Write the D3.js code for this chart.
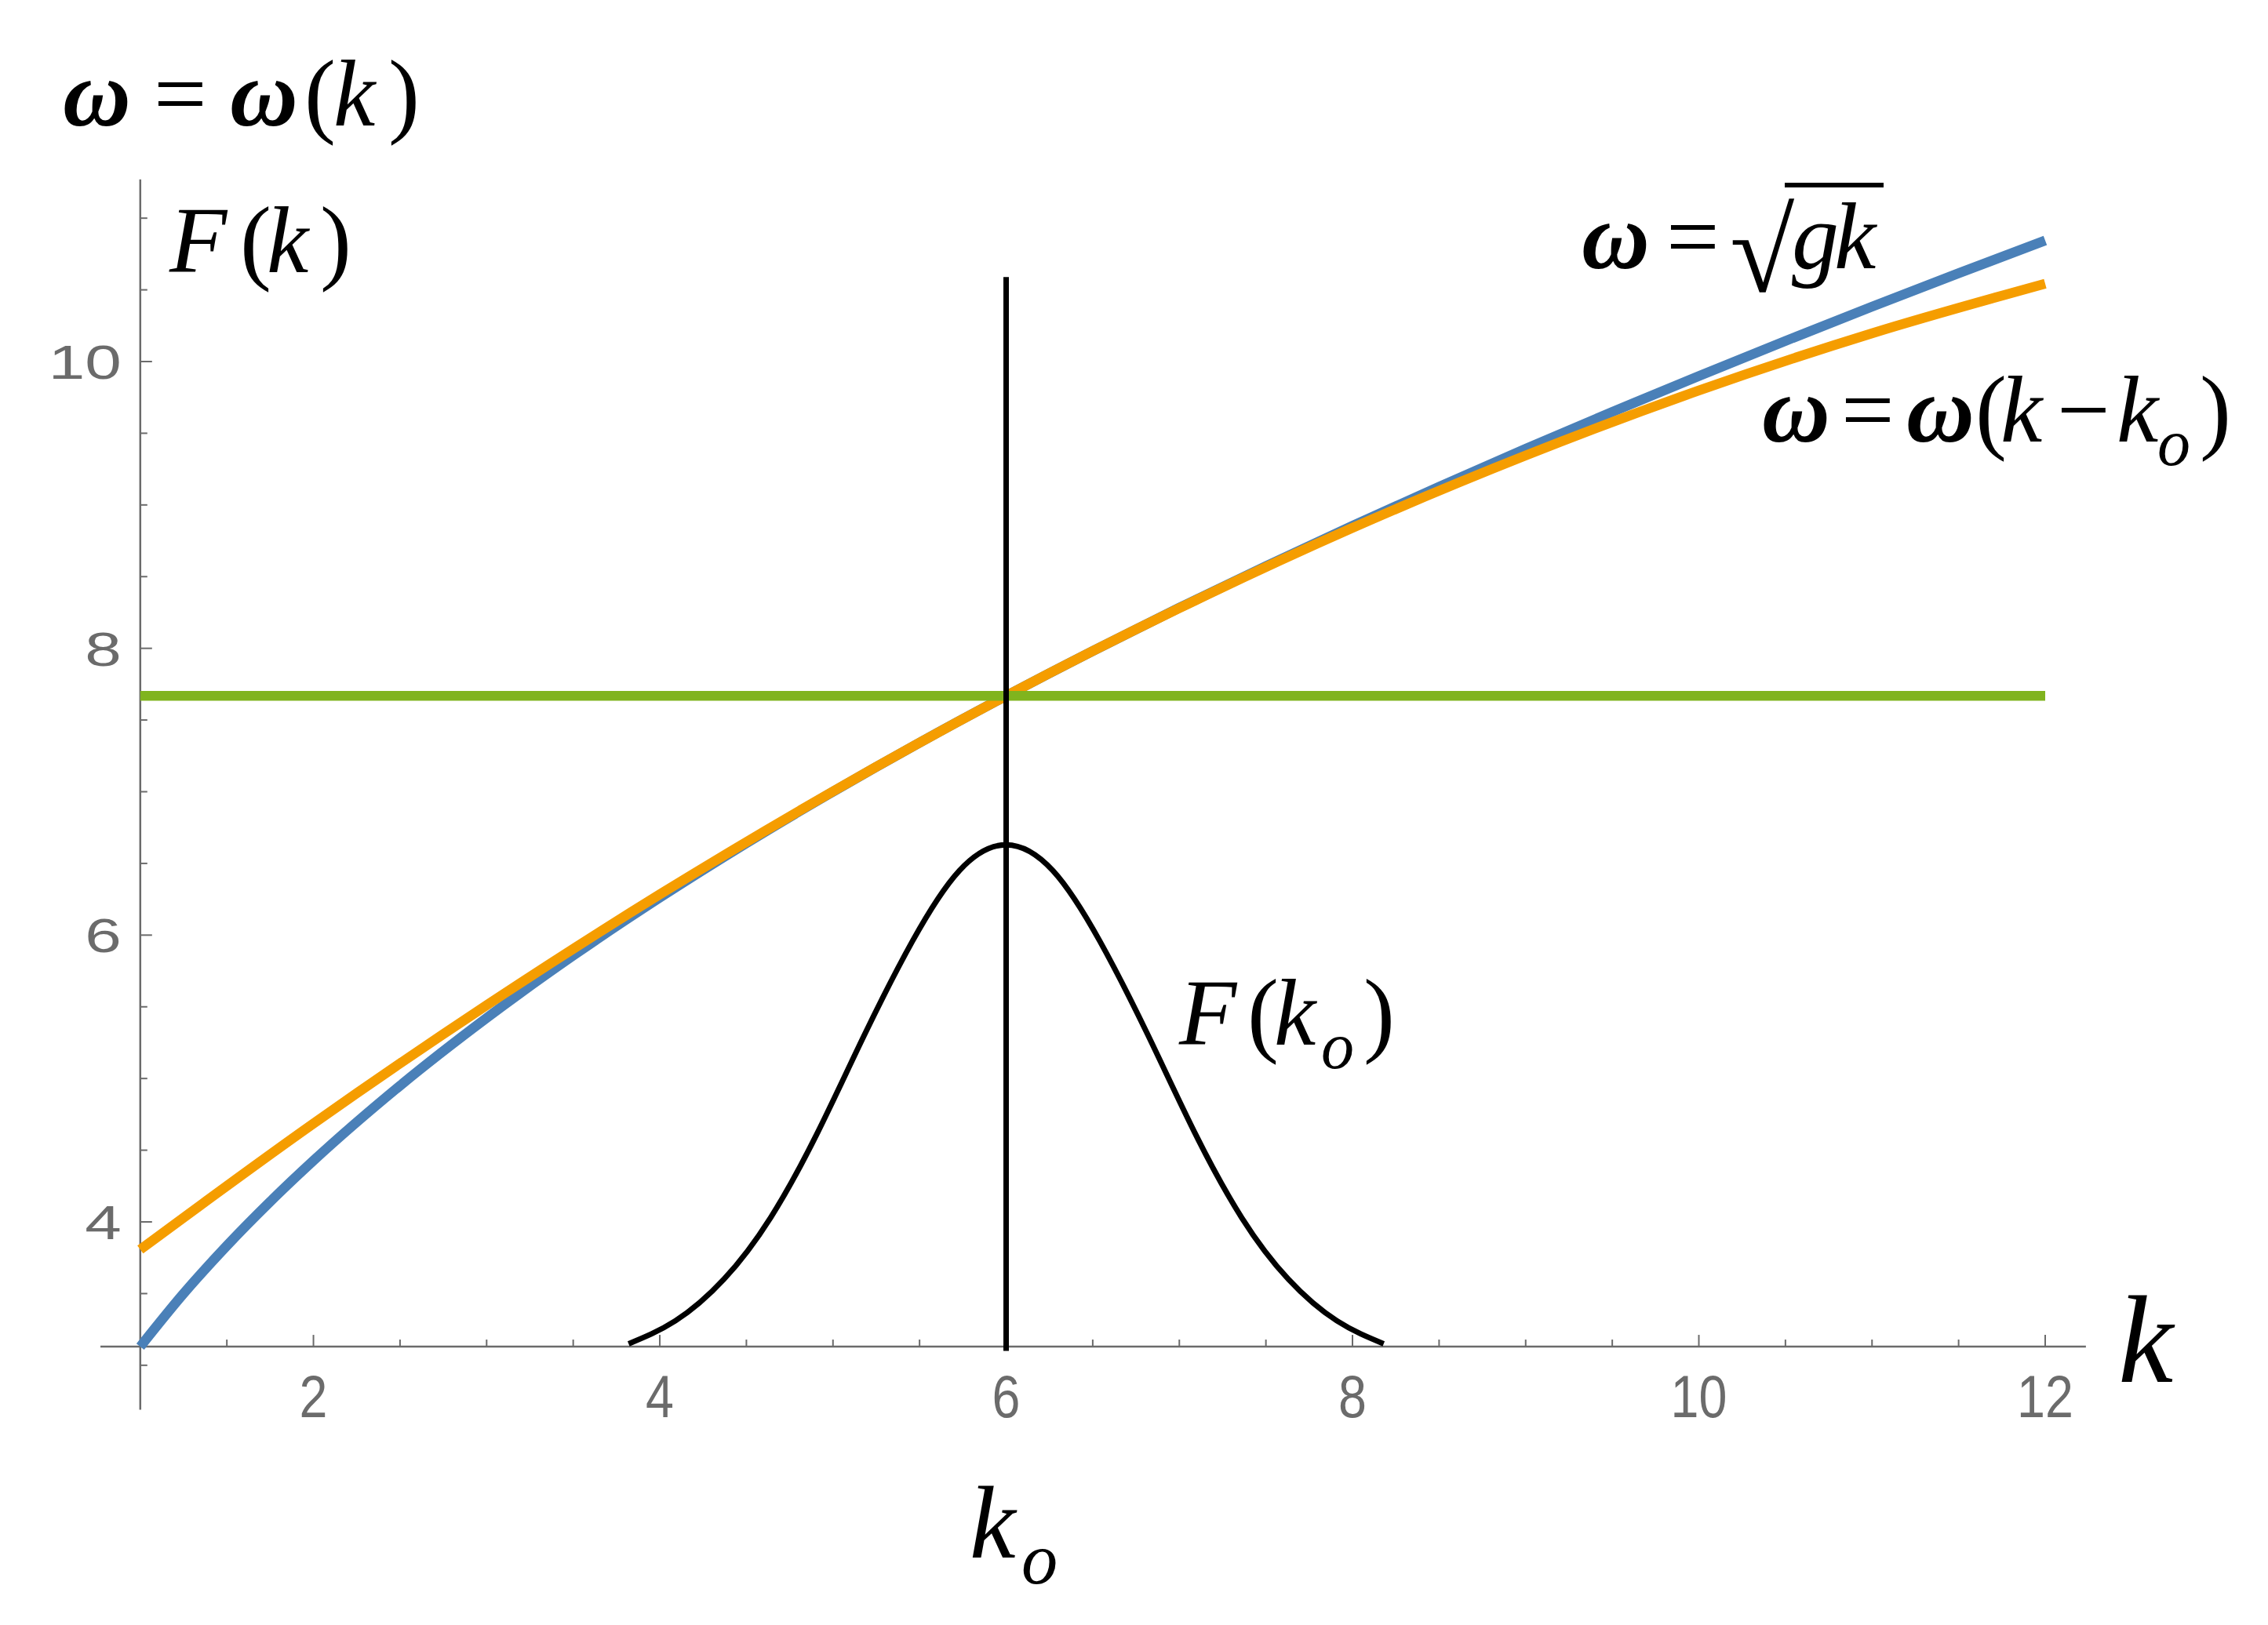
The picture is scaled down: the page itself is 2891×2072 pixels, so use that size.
<!DOCTYPE html>
<html>
<head>
<meta charset="utf-8">
<script src="https://cdn.jsdelivr.net/npm/d3@7"></script>
<style>
  html, body { margin: 0; padding: 0; background: #fff; }
  svg { display: block; }
</style>
</head>
<body>
<svg id="chart" width="2891" height="2072"></svg>
<script>
// ---- data ----
const kBlue = [1, 1.25, 1.5, 1.75, 2, 2.5, 3, 3.5, 4, 4.5, 5, 5.5, 6, 6.5, 7, 7.5, 8, 8.5, 9, 9.5, 10, 10.5, 11, 11.5, 12];
const omegaBlue = [3.130, 3.500, 3.834, 4.141, 4.427, 4.950, 5.422, 5.857, 6.261, 6.641, 7.000, 7.342, 7.668, 7.981, 8.283, 8.573, 8.854, 9.127, 9.391, 9.649, 9.899, 10.144, 10.383, 10.616, 10.844];

const kOrange = [1, 2, 3, 4, 5, 6, 7, 8, 9, 10, 11, 12];
const omegaOrange = [3.807, 4.686, 5.511, 6.284, 7.002, 7.668, 8.280, 8.840, 9.345, 9.798, 10.197, 10.543];

const kGauss = [3.82, 4.09, 4.37, 4.64, 4.91, 5.18, 5.46, 5.73, 6.0, 6.27, 6.54, 6.82, 7.09, 7.36, 7.63, 7.91, 8.18];
const FGauss = [3.15, 3.31, 3.60, 4.03, 4.62, 5.30, 5.96, 6.45, 6.63, 6.45, 5.96, 5.30, 4.62, 4.03, 3.60, 3.31, 3.15];

const omegaLevel = 7.668;          // green horizontal line
const kLevelRange = [1, 12];
const k0 = 6;                      // vertical line
const k0LineRange = [3.10, 10.59];

const xTickLabels = [2, 4, 6, 8, 10, 12];
const yTickLabels = [4, 6, 8, 10];
const xMinorTicks = [1.5, 2.5, 3, 3.5, 4.5, 5, 5.5, 6.5, 7, 7.5, 8.5, 9, 9.5, 10.5, 11, 11.5];
const yMinorTicks = [3, 3.5, 4.5, 5, 5.5, 6.5, 7, 7.5, 8.5, 9, 9.5, 10.5, 11];
const axisCrossY = 3.13;
const axisCrossX = 1;
const xAxisExtent = [0.77, 12.235];
const yAxisExtent = [2.69, 11.27];

// ---- scales ----
const x = d3.scaleLinear().domain([1, 12]).range([178.8, 2607]);
const y = d3.scaleLinear().domain([4, 10]).range([1558, 461]);

const svg = d3.select("#chart");
const axisColor = "#6b6b6b";
const SERIF = "'Liberation Serif', 'Times New Roman', serif";
const SANS = "'Liberation Sans', Arial, sans-serif";

// ---- axes ----
const gAx = svg.append("g");
gAx.append("line")
  .attr("x1", x(xAxisExtent[0])).attr("x2", x(xAxisExtent[1]))
  .attr("y1", y(axisCrossY)).attr("y2", y(axisCrossY))
  .attr("stroke", axisColor).attr("stroke-width", 2.5);
gAx.append("line")
  .attr("x1", x(axisCrossX)).attr("x2", x(axisCrossX))
  .attr("y1", y(yAxisExtent[0])).attr("y2", y(yAxisExtent[1]))
  .attr("stroke", axisColor).attr("stroke-width", 2.5);

gAx.selectAll(".xmaj").data(xTickLabels).join("line")
  .attr("x1", d => x(d)).attr("x2", d => x(d))
  .attr("y1", y(axisCrossY)).attr("y2", y(axisCrossY) - 15)
  .attr("stroke", axisColor).attr("stroke-width", 2);
gAx.selectAll(".xmin").data(xMinorTicks).join("line")
  .attr("x1", d => x(d)).attr("x2", d => x(d))
  .attr("y1", y(axisCrossY)).attr("y2", y(axisCrossY) - 9)
  .attr("stroke", axisColor).attr("stroke-width", 2);
gAx.selectAll(".ymaj").data(yTickLabels).join("line")
  .attr("x1", x(axisCrossX)).attr("x2", x(axisCrossX) + 15)
  .attr("y1", d => y(d)).attr("y2", d => y(d))
  .attr("stroke", axisColor).attr("stroke-width", 2);
gAx.selectAll(".ymin").data(yMinorTicks).join("line")
  .attr("x1", x(axisCrossX)).attr("x2", x(axisCrossX) + 9)
  .attr("y1", d => y(d)).attr("y2", d => y(d))
  .attr("stroke", axisColor).attr("stroke-width", 2);

gAx.selectAll(".xl").data(xTickLabels).join("text")
  .style("font-family", SANS)
  .attr("transform", d => `translate(${x(d)},${y(axisCrossY) + 90}) scale(0.85,1)`)
  .attr("text-anchor", "middle")
  .attr("font-size", 76)
  .attr("fill", axisColor)
  .text(d => d);
gAx.selectAll(".yl").data(yTickLabels).join("text")
  .style("font-family", SANS)
  .attr("transform", d => `translate(${x(axisCrossX) - 24},${y(d) + 22}) scale(1.35,1)`)
  .attr("text-anchor", "end")
  .attr("font-size", 62)
  .attr("fill", axisColor)
  .text(d => d);

// ---- curves ----
const lineGen = d3.line().x(d => x(d[0])).y(d => y(d[1])).curve(d3.curveMonotoneX);
const smoothGen = d3.line().x(d => x(d[0])).y(d => y(d[1])).curve(d3.curveNatural);

svg.append("path")
  .datum(kBlue.map((k, i) => [k, omegaBlue[i]]))
  .attr("d", lineGen)
  .attr("fill", "none").attr("stroke", "#4a80b8").attr("stroke-width", 12.5);

svg.append("path")
  .datum(kOrange.map((k, i) => [k, omegaOrange[i]]))
  .attr("d", lineGen)
  .attr("fill", "none").attr("stroke", "#f59d00").attr("stroke-width", 12.5);

svg.append("line")
  .attr("x1", x(kLevelRange[0])).attr("x2", x(kLevelRange[1]))
  .attr("y1", y(omegaLevel)).attr("y2", y(omegaLevel))
  .attr("stroke", "#80b41e").attr("stroke-width", 12.5);

svg.append("path")
  .datum(kGauss.map((k, i) => [k, FGauss[i]]))
  .attr("d", smoothGen)
  .attr("fill", "none").attr("stroke", "#000").attr("stroke-width", 7);

svg.append("line")
  .attr("x1", x(k0)).attr("x2", x(k0))
  .attr("y1", y(k0LineRange[0])).attr("y2", y(k0LineRange[1]))
  .attr("stroke", "#000").attr("stroke-width", 7);

// ---- math labels: each glyph placed at the left edge seen in the reference ----
function mathLabel(baseY, size, parts) {
  const t = svg.append("text")
    .style("font-family", SERIF)
    .attr("y", baseY)
    .attr("font-size", size)
    .attr("fill", "#000");
  parts.forEach(p => {
    const s = t.append("tspan").attr("x", p.x).text(p.t);
    if (p.it) s.attr("font-style", "italic");
    if (p.b) s.attr("font-weight", "bold");
    if (p.fs) s.attr("font-size", p.fs);
    if (p.sub) s.attr("font-size", size * 0.7).attr("y", baseY + size * 0.25);
    else s.attr("y", baseY + (p.dy || 0));
  });
  return t;
}

mathLabel(160, 120, [
  {t: "ω", x: 80, it: 1, b: 1}, {t: "=", x: 196}, {t: "ω", x: 293, it: 1, b: 1},
  {t: "(", x: 388}, {t: "k", x: 425, it: 1}, {t: ")", x: 495}
]);

mathLabel(347, 120, [
  {t: "F", x: 216, it: 1}, {t: "(", x: 306}, {t: "k", x: 340, it: 1}, {t: ")", x: 408}
]);

// ω = √(gk)
mathLabel(342, 120, [
  {t: "ω", x: 2016, it: 1, b: 1}, {t: "=", x: 2124},
  {t: "√", x: 2205, fs: 150, dy: 30},
  {t: "g", x: 2284, it: 1}, {t: "k", x: 2338, it: 1}
]);
svg.append("line")
  .attr("x1", 2275).attr("x2", 2401).attr("y1", 236).attr("y2", 236)
  .attr("stroke", "#000").attr("stroke-width", 6);

mathLabel(563, 120, [
  {t: "ω", x: 2246, it: 1, b: 1}, {t: "=", x: 2347}, {t: "ω", x: 2430, it: 1, b: 1},
  {t: "(", x: 2518}, {t: "k", x: 2550, it: 1}, {t: "−", x: 2622},
  {t: "k", x: 2698, it: 1}, {t: "o", x: 2750, it: 1, sub: 1}, {t: ")", x: 2804}
]);

mathLabel(1332, 120, [
  {t: "F", x: 1503, it: 1}, {t: "(", x: 1590}, {t: "k", x: 1624, it: 1},
  {t: "o", x: 1684, it: 1, sub: 1}, {t: ")", x: 1738}
]);

mathLabel(1986, 132, [
  {t: "k", x: 1236, it: 1}, {t: "o", x: 1302, it: 1, sub: 1}
]);

mathLabel(1762, 158, [{t: "k", x: 2700, it: 1}]);
</script>
</body>
</html>
